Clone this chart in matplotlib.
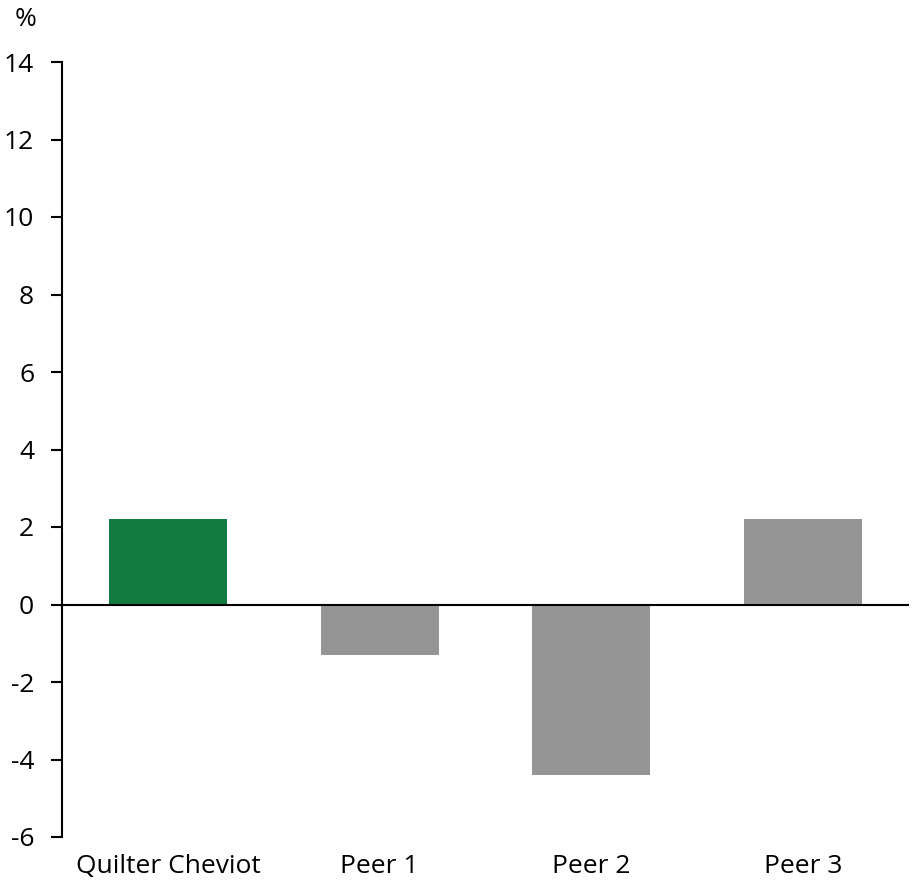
import matplotlib.pyplot as plt

plt.rcParams['font.family'] = ['Open Sans', 'DejaVu Sans']

# Données
categories = ['Quilter Cheviot', 'Peer 1', 'Peer 2', 'Peer 3']
values = [2.2, -1.3, -4.4, 2.2]
colors = ['#127B3F', '#959595', '#959595', '#959595']
yticks = list(range(-6, 15, 2))

W, H = 915, 881
fig = plt.figure(figsize=(W / 100, H / 100), dpi=100)
ax = fig.add_axes([62 / W, 1 - 837 / H, (909 - 62) / W, (837 - 62) / H])

x = range(len(categories))
ax.bar(x, values, width=0.557, color=colors, zorder=2)
ax.axhline(0, color='black', linewidth=1.5, zorder=3)

ax.set_xlim(-0.5, len(categories) - 0.5)
ax.set_ylim(-6, 14)
ax.set_yticks(yticks)
ax.set_yticklabels([str(v) for v in yticks])
ax.set_xticks(list(x))
ax.set_xticklabels(categories)

for s in ['top', 'right', 'bottom']:
    ax.spines[s].set_visible(False)
ax.spines['left'].set_linewidth(1.5)
ax.tick_params(axis='y', length=8, width=1.5, labelsize=19, pad=12)
ax.tick_params(axis='x', length=0, labelsize=19, pad=12)

fig.text(26 / W, 1 - 19 / H, '%', fontsize=19, ha='center', va='center')

fig.savefig('out.png', dpi=100)
